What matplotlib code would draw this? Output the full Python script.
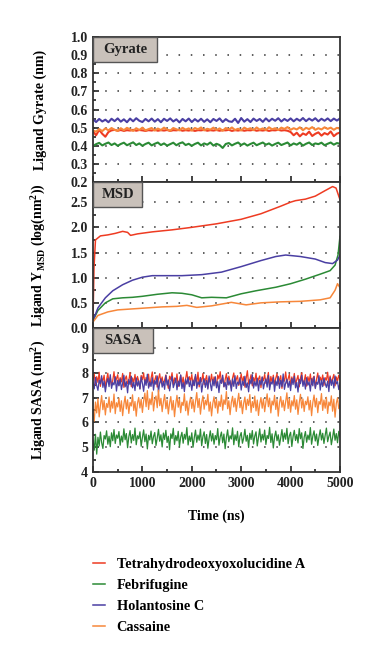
import numpy as np
import matplotlib
matplotlib.use("Agg")
import matplotlib.pyplot as plt
from matplotlib.patches import Rectangle
from matplotlib.ticker import MultipleLocator

plt.rcParams["font.family"] = ["Liberation Serif", "DejaVu Serif"]
plt.rcParams["font.weight"] = "bold"
plt.rcParams["mathtext.fontset"] = "custom"
plt.rcParams["mathtext.rm"] = "Liberation Serif:bold"
plt.rcParams["mathtext.bf"] = "Liberation Serif:bold"

names = ["Tetrahydrodeoxyoxolucidine A", "Febrifugine", "Holantosine C", "Cassaine"]
colors = ["#ee3b22", "#2b8a35", "#4a3fa3", "#f7873a"]

# ---- radius of gyration (nm), sampled evenly over 0-5000 ns
gyr_red = [0.480, 0.458, 0.488, 0.466, 0.450, 0.476, 0.485, 0.488, 0.483, 0.487,
           0.482, 0.486, 0.484, 0.488, 0.483, 0.487, 0.485, 0.482, 0.486, 0.484,
           0.488, 0.483, 0.486, 0.484, 0.487, 0.482, 0.486, 0.485, 0.488, 0.483,
           0.486, 0.484, 0.487, 0.482, 0.486, 0.485, 0.488, 0.483, 0.486, 0.484,
           0.487, 0.483, 0.486, 0.485, 0.488, 0.482, 0.486, 0.484, 0.487, 0.483,
           0.486, 0.485, 0.488, 0.483, 0.486, 0.484, 0.487, 0.482, 0.486, 0.485,
           0.488, 0.484, 0.486, 0.483, 0.476, 0.458, 0.472, 0.452, 0.468, 0.460,
           0.478, 0.454, 0.466, 0.474, 0.456, 0.470, 0.462, 0.479, 0.453, 0.467, 0.473]
gyr_green = [0.398, 0.409, 0.416, 0.402, 0.411, 0.418, 0.404, 0.413, 0.400, 0.410,
             0.417, 0.403, 0.411, 0.419, 0.404, 0.413, 0.400, 0.410, 0.417, 0.402,
             0.411, 0.418, 0.404, 0.413, 0.401, 0.409, 0.417, 0.403, 0.413, 0.419,
             0.404, 0.411, 0.400, 0.410, 0.417, 0.402, 0.413, 0.406, 0.418, 0.401,
             0.411, 0.404, 0.388, 0.410, 0.415, 0.402, 0.411, 0.418, 0.404, 0.413,
             0.401, 0.410, 0.417, 0.403, 0.411, 0.418, 0.406, 0.413, 0.401, 0.410,
             0.417, 0.404, 0.411, 0.418, 0.402, 0.413, 0.406, 0.417, 0.401, 0.411,
             0.418, 0.404, 0.413, 0.409, 0.417, 0.403, 0.411, 0.418, 0.406, 0.415, 0.411]
gyr_blue = [0.547, 0.531, 0.548, 0.534, 0.544, 0.530, 0.549, 0.536, 0.551, 0.533,
            0.546, 0.530, 0.550, 0.535, 0.552, 0.538, 0.531, 0.548, 0.535, 0.550,
            0.533, 0.547, 0.530, 0.549, 0.537, 0.551, 0.534, 0.546, 0.529, 0.548,
            0.535, 0.550, 0.531, 0.547, 0.534, 0.549, 0.532, 0.546, 0.530, 0.548,
            0.537, 0.551, 0.531, 0.547, 0.535, 0.532, 0.549, 0.526, 0.553, 0.533,
            0.547, 0.531, 0.550, 0.537, 0.548, 0.532, 0.551, 0.535, 0.549, 0.538,
            0.552, 0.534, 0.548, 0.537, 0.551, 0.535, 0.549, 0.538, 0.553, 0.536,
            0.550, 0.539, 0.552, 0.535, 0.549, 0.538, 0.551, 0.536, 0.550, 0.539, 0.551]
gyr_orange = [0.484, 0.478, 0.492, 0.481, 0.496, 0.485, 0.498, 0.488, 0.482, 0.497,
              0.486, 0.499, 0.490, 0.482, 0.497, 0.487, 0.500, 0.485, 0.492, 0.498,
              0.484, 0.495, 0.487, 0.500, 0.490, 0.483, 0.498, 0.491, 0.485, 0.499,
              0.489, 0.496, 0.484, 0.498, 0.491, 0.501, 0.485, 0.494, 0.489, 0.500,
              0.487, 0.496, 0.483, 0.498, 0.490, 0.501, 0.487, 0.494, 0.485, 0.500,
              0.491, 0.497, 0.486, 0.501, 0.489, 0.496, 0.487, 0.502, 0.491, 0.497,
              0.487, 0.500, 0.493, 0.503, 0.488, 0.497, 0.490, 0.502, 0.486, 0.499,
              0.492, 0.503, 0.488, 0.497, 0.490, 0.502, 0.493, 0.500, 0.488, 0.499, 0.494]

# ---- MSD curves (time in ns, value)
msd_red_t = [0, 20, 50, 150, 300, 450, 600, 700, 760, 900, 1200, 1600, 2000, 2500,
             3000, 3400, 3800, 4000, 4100, 4300, 4500, 4700, 4850, 4920, 5000]
msd_red = [0.15, 1.20, 1.75, 1.83, 1.85, 1.88, 1.92, 1.90, 1.84, 1.87, 1.91, 1.95, 2.00, 2.07,
           2.16, 2.27, 2.42, 2.50, 2.53, 2.56, 2.62, 2.73, 2.81, 2.78, 2.55]
msd_green_t = [0, 100, 250, 400, 600, 800, 1000, 1300, 1600, 1800, 2000, 2200, 2400, 2700,
               3000, 3300, 3700, 4000, 4300, 4600, 4800, 4900, 4960, 5000]
msd_green = [0.15, 0.35, 0.50, 0.58, 0.60, 0.61, 0.63, 0.67, 0.70, 0.69, 0.66, 0.60, 0.61, 0.60,
             0.68, 0.74, 0.81, 0.88, 0.97, 1.07, 1.14, 1.25, 1.45, 1.82]
msd_blue_t = [0, 100, 250, 400, 600, 800, 1000, 1200, 1500, 1800, 2200, 2600, 3000, 3400,
              3700, 3900, 4200, 4500, 4700, 4850, 4950, 5000]
msd_blue = [0.15, 0.40, 0.60, 0.74, 0.86, 0.95, 1.01, 1.04, 1.04, 1.04, 1.06, 1.11, 1.22, 1.34,
            1.42, 1.45, 1.42, 1.37, 1.30, 1.28, 1.35, 1.45]
msd_orange_t = [0, 100, 300, 500, 800, 1100, 1400, 1700, 1900, 2100, 2400, 2800, 3100, 3400,
                3800, 4200, 4600, 4800, 4900, 4950, 5000]
msd_orange = [0.12, 0.25, 0.32, 0.36, 0.38, 0.40, 0.42, 0.43, 0.45, 0.41, 0.44, 0.51, 0.46, 0.50,
              0.52, 0.53, 0.56, 0.60, 0.75, 0.88, 0.80]

# ---- SASA (nm^2), sampled evenly over 0-5000 ns
sasa_red = [7.70, 7.95, 7.52, 7.84, 7.61, 8.02, 7.45, 7.78, 7.66, 7.90, 7.38, 7.73, 7.98, 7.55, 7.82, 7.47, 7.69, 8.04, 7.58, 7.76,
            7.92, 7.49, 7.80, 7.63, 7.97, 7.41, 7.74, 7.87, 7.56, 7.68, 8.01, 7.44, 7.79, 7.60, 7.93, 7.51, 7.85, 7.67, 7.36, 7.89,
            7.72, 7.99, 7.54, 7.81, 7.62, 7.94, 7.46, 7.77, 8.03, 7.57, 7.70, 7.88, 7.42, 7.75, 7.96, 7.59, 7.83, 7.50, 7.71, 7.91,
            7.64, 7.37, 7.86, 7.73, 8.00, 7.53, 7.79, 7.61, 7.95, 7.45, 7.68, 7.90, 7.55, 7.82, 7.40, 7.76, 8.05, 7.58, 7.84, 7.66,
            7.93, 7.48, 7.74, 7.87, 7.57, 8.02, 7.43, 7.80, 7.65, 7.97, 7.52, 7.71, 7.89, 7.39, 7.78, 7.62, 7.94, 7.55, 7.83, 7.69,
            7.46, 7.91, 7.75, 8.04, 7.59, 7.81, 7.44, 7.72, 7.96, 7.53, 7.86, 7.64, 7.38, 7.79, 7.99, 7.56, 7.73, 7.88, 7.49, 7.67,
            7.95, 7.61, 7.84, 7.42, 7.77, 8.08, 7.54, 7.70, 7.92, 7.47, 7.80, 7.63, 7.98, 7.51, 7.75, 7.87, 7.40, 7.82, 7.68, 7.93,
            7.57, 7.74, 8.01, 7.45, 7.85, 7.62, 7.90, 7.50, 7.78, 7.96, 7.55, 7.71, 7.88, 7.37, 7.81, 7.66, 8.03, 7.58, 7.76, 7.94,
            7.48, 7.83, 7.60, 7.97, 7.53, 7.72, 7.89, 7.43, 7.79, 8.00, 7.56, 7.68, 7.92, 7.46, 7.84, 7.63, 7.95, 7.52, 7.77, 7.86,
            7.41, 7.74, 7.99, 7.58, 7.82, 7.65, 7.91, 7.49, 7.80, 7.70, 8.02, 7.54, 7.87, 7.61, 7.76, 7.93, 7.47, 7.83, 7.67, 7.90, 7.72]
sasa_green = [5.28, 4.88, 5.52, 4.72, 5.40, 5.05, 5.61, 5.18, 4.95, 5.47, 5.33, 5.66, 5.12, 5.44, 5.02, 5.58, 5.26, 5.71, 5.15, 5.49,
              5.36, 5.63, 5.08, 5.45, 5.21, 5.74, 5.30, 5.55, 4.98, 5.42, 5.67, 5.17, 5.51, 5.27, 5.77, 5.10, 5.46, 5.34, 5.62, 5.04,
              5.39, 5.70, 5.22, 5.53, 4.93, 5.48, 5.29, 5.65, 5.14, 5.43, 5.59, 5.07, 5.37, 5.72, 5.24, 5.50, 5.01, 5.57, 5.31, 5.68,
              5.19, 5.44, 4.90, 5.54, 5.35, 5.76, 5.11, 5.47, 5.26, 5.64, 5.03, 5.41, 5.60, 5.16, 5.52, 5.32, 5.79, 5.09, 5.45, 5.23,
              5.58, 5.00, 5.38, 5.69, 5.20, 5.49, 5.28, 5.73, 5.06, 5.43, 5.62, 5.15, 5.51, 4.96, 5.36, 5.66, 5.25, 5.55, 5.12, 5.47,
              5.30, 5.75, 5.08, 5.42, 5.61, 5.18, 5.53, 4.94, 5.39, 5.70, 5.22, 5.46, 5.33, 5.78, 5.10, 5.50, 5.27, 5.64, 5.02, 5.44,
              5.59, 5.16, 5.37, 5.72, 5.24, 5.48, 4.99, 5.56, 5.31, 5.67, 5.13, 5.45, 5.62, 5.05, 5.40, 5.74, 5.21, 5.52, 5.29, 5.69,
              5.11, 5.47, 5.35, 5.80, 5.19, 5.54, 4.97, 5.41, 5.65, 5.26, 5.50, 5.08, 5.38, 5.71, 5.23, 5.57, 5.32, 5.76, 5.14, 5.46,
              5.60, 5.03, 5.43, 5.68, 5.27, 5.51, 5.17, 5.75, 5.34, 5.58, 4.95, 5.40, 5.63, 5.20, 5.49, 5.30, 5.79, 5.12, 5.45, 5.66,
              5.25, 5.53, 5.07, 5.42, 5.70, 5.29, 5.56, 5.15, 5.48, 5.77, 5.22, 5.44, 5.61, 5.10, 5.39, 5.73, 5.28, 5.55, 5.18, 5.64, 5.41]
sasa_blue = [7.62, 7.35, 7.81, 7.48, 7.29, 7.70, 7.55, 7.88, 7.41, 7.66, 7.23, 7.58, 7.77, 7.44, 7.92, 7.37, 7.60, 7.51, 7.84, 7.26,
             7.69, 7.47, 7.75, 7.32, 7.58, 7.90, 7.43, 7.64, 7.19, 7.73, 7.52, 7.86, 7.39, 7.61, 7.28, 7.79, 7.46, 7.67, 7.34, 7.83,
             7.57, 7.25, 7.72, 7.49, 7.94, 7.38, 7.63, 7.45, 7.80, 7.30, 7.68, 7.53, 7.87, 7.21, 7.59, 7.76, 7.42, 7.65, 7.33, 7.89,
             7.50, 7.71, 7.27, 7.62, 7.85, 7.40, 7.56, 7.78, 7.31, 7.66, 7.46, 7.91, 7.36, 7.60, 7.24, 7.74, 7.54, 7.82, 7.44, 7.67,
             7.29, 7.70, 7.48, 7.93, 7.37, 7.63, 7.52, 7.81, 7.22, 7.58, 7.76, 7.41, 7.69, 7.34, 7.87, 7.55, 7.28, 7.73, 7.47, 7.84,
             7.39, 7.64, 7.20, 7.71, 7.57, 7.90, 7.43, 7.61, 7.32, 7.79, 7.50, 7.68, 7.26, 7.75, 7.45, 7.88, 7.36, 7.62, 7.53, 7.80,
             7.30, 7.66, 7.49, 7.86, 7.40, 7.59, 7.23, 7.72, 7.55, 7.92, 7.38, 7.64, 7.46, 7.78, 7.27, 7.69, 7.51, 7.83, 7.35, 7.60,
             7.75, 7.42, 7.89, 7.31, 7.63, 7.54, 7.81, 7.25, 7.67, 7.48, 7.85, 7.37, 7.70, 7.44, 7.95, 7.33, 7.58, 7.74, 7.41, 7.65,
             7.28, 7.77, 7.52, 7.86, 7.39, 7.61, 7.22, 7.73, 7.56, 7.90, 7.45, 7.68, 7.34, 7.80, 7.50, 7.63, 7.26, 7.76, 7.47, 7.84,
             7.36, 7.62, 7.53, 7.88, 7.30, 7.70, 7.44, 7.79, 7.57, 7.41, 7.66, 7.24, 7.82, 7.49, 7.71, 7.38, 7.87, 7.55, 7.64, 7.32, 7.60]
sasa_orange = [6.45, 6.05, 6.82, 6.38, 6.95, 6.22, 6.70, 7.08, 6.51, 6.88, 6.30, 6.76, 6.60, 7.02, 6.41, 6.85, 6.57, 7.14, 6.35, 6.79,
               6.62, 6.98, 6.44, 6.87, 6.27, 6.73, 7.05, 6.54, 6.91, 6.36, 6.80, 6.66, 7.11, 6.48, 6.84, 6.25, 6.77, 7.00, 6.58, 6.93,
               6.40, 6.86, 7.18, 6.63, 7.28, 6.52, 6.95, 6.71, 7.22, 6.46, 6.89, 7.06, 6.59, 7.30, 6.67, 6.97, 6.43, 6.83, 7.12, 6.55,
               6.90, 6.34, 6.78, 7.04, 6.50, 6.88, 6.23, 6.74, 7.09, 6.61, 6.94, 6.39, 6.81, 6.68, 7.15, 6.47, 6.86, 6.29, 6.75, 7.01,
               6.56, 6.92, 6.42, 6.84, 7.20, 6.60, 6.96, 6.33, 6.79, 7.07, 6.53, 6.89, 6.70, 7.13, 6.45, 6.82, 6.26, 6.76, 7.03, 6.58,
               6.94, 6.37, 6.85, 6.64, 7.10, 6.49, 6.91, 6.72, 7.24, 6.55, 6.87, 6.31, 6.80, 7.05, 6.62, 6.97, 6.44, 6.83, 7.17, 6.59,
               6.88, 6.35, 6.77, 7.02, 6.51, 6.93, 6.68, 7.12, 6.40, 6.84, 6.60, 7.06, 6.46, 6.90, 6.28, 6.74, 7.00, 6.57, 6.95, 6.43,
               6.81, 7.15, 6.63, 6.98, 6.38, 6.86, 6.70, 7.09, 6.52, 6.92, 6.25, 6.79, 7.04, 6.61, 6.89, 6.47, 6.83, 7.19, 6.56, 6.96,
               6.41, 6.87, 6.66, 7.08, 6.53, 6.91, 6.32, 6.78, 7.13, 6.58, 6.94, 6.44, 6.85, 6.71, 7.03, 6.50, 6.88, 6.27, 6.80, 7.10,
               6.62, 6.97, 6.39, 6.84, 6.73, 7.16, 6.48, 6.90, 6.57, 7.01, 6.36, 6.82, 6.67, 7.07, 6.45, 6.93, 6.21, 6.76, 6.99, 6.55, 6.70]


def even_time(values):
    return np.linspace(0, 5000, len(values))


def style_axis(ax, ylim, major, minor, grid_vals, box_label, box_w):
    ax.set_xlim(0, 5000)
    ax.set_ylim(*ylim)
    ax.xaxis.set_major_locator(MultipleLocator(1000))
    ax.xaxis.set_minor_locator(MultipleLocator(500))
    ax.yaxis.set_major_locator(MultipleLocator(major))
    ax.yaxis.set_minor_locator(MultipleLocator(minor))
    ax.tick_params(which="both", direction="in", top=False, right=False,
                   width=1.2, labelsize=10, colors="#222222")
    ax.tick_params(which="major", length=4)
    ax.tick_params(which="minor", length=2.5)
    for s in ax.spines.values():
        s.set_linewidth(1.3)
        s.set_color("#333333")
    for g in grid_vals:
        ax.axhline(g, color="#333333", lw=1.1, ls=(0, (1, 7)), zorder=0)
    ax.add_patch(Rectangle((0, 1 - 0.172), box_w, 0.172, transform=ax.transAxes,
                           facecolor="#c9c1ba", edgecolor="#555555", lw=1.0,
                           zorder=5, clip_on=False))
    ax.text(box_w / 2, 1 - 0.086, box_label, transform=ax.transAxes, ha="center",
            va="center", fontsize=10.5, fontweight="bold", color="#222222", zorder=6)


fig = plt.figure(figsize=(3.84, 6.6), dpi=100)
left, width = 0.2422, 0.6432
ax1 = fig.add_axes([left, 0.7242, width, 0.2197])
ax2 = fig.add_axes([left, 0.5030, width, 0.2212])
ax3 = fig.add_axes([left, 0.2848, width, 0.2182])

# gyrate
ax1.plot(even_time(gyr_red), gyr_red, color=colors[0], lw=1.5)
ax1.plot(even_time(gyr_green), gyr_green, color=colors[1], lw=1.5)
ax1.plot(even_time(gyr_orange), gyr_orange, color=colors[3], lw=1.5)
ax1.plot(even_time(gyr_blue), gyr_blue, color=colors[2], lw=1.5)
style_axis(ax1, (0.2, 1.0), 0.1, 0.05, [0.3, 0.4, 0.5, 0.6, 0.7, 0.8, 0.9], "Gyrate", 0.26)
ax1.set_xticklabels([])
ax1.set_ylabel("Ligand Gyrate (nm)", fontsize=10, fontweight="bold")

# msd
lines = []
lines += ax2.plot(msd_red_t, msd_red, color=colors[0], lw=1.1)
lines += ax2.plot(msd_green_t, msd_green, color=colors[1], lw=1.1)
lines += ax2.plot(msd_blue_t, msd_blue, color=colors[2], lw=1.1)
lines += ax2.plot(msd_orange_t, msd_orange, color=colors[3], lw=1.1)
style_axis(ax2, (0.0, 2.9), 0.5, 0.25, [0.5, 1.0, 1.5, 2.0, 2.5], "MSD", 0.2)
ax2.set_xticklabels([])
ax2.set_ylabel(r"Ligand Y$_{\mathrm{MSD}}$ (log(nm$^{2}$))", fontsize=10, fontweight="bold")

# sasa
ax3.plot(even_time(sasa_red), sasa_red, color=colors[0], lw=0.9)
ax3.plot(even_time(sasa_blue), sasa_blue, color=colors[2], lw=0.9)
ax3.plot(even_time(sasa_orange), sasa_orange, color=colors[3], lw=0.9)
ax3.plot(even_time(sasa_green), sasa_green, color=colors[1], lw=0.9)
style_axis(ax3, (4, 9.8), 1, 0.5, [5, 6, 7, 8, 9], "SASA", 0.243)
ax3.set_ylabel(r"Ligand SASA (nm$^{2}$)", fontsize=10, fontweight="bold")
ax3.set_xlabel("Time (ns)", fontsize=10, fontweight="bold", labelpad=14)

for ax in (ax1, ax2, ax3):
    ax.yaxis.set_label_coords(-0.185, 0.5)

fig.legend(lines, names, loc="upper left", bbox_to_anchor=(0.209, 0.174),
           frameon=False, handlelength=0.8, handletextpad=0.85,
           labelspacing=0.55, prop={"weight": "bold", "size": 10.3})

fig.savefig("out.png", dpi=100)
